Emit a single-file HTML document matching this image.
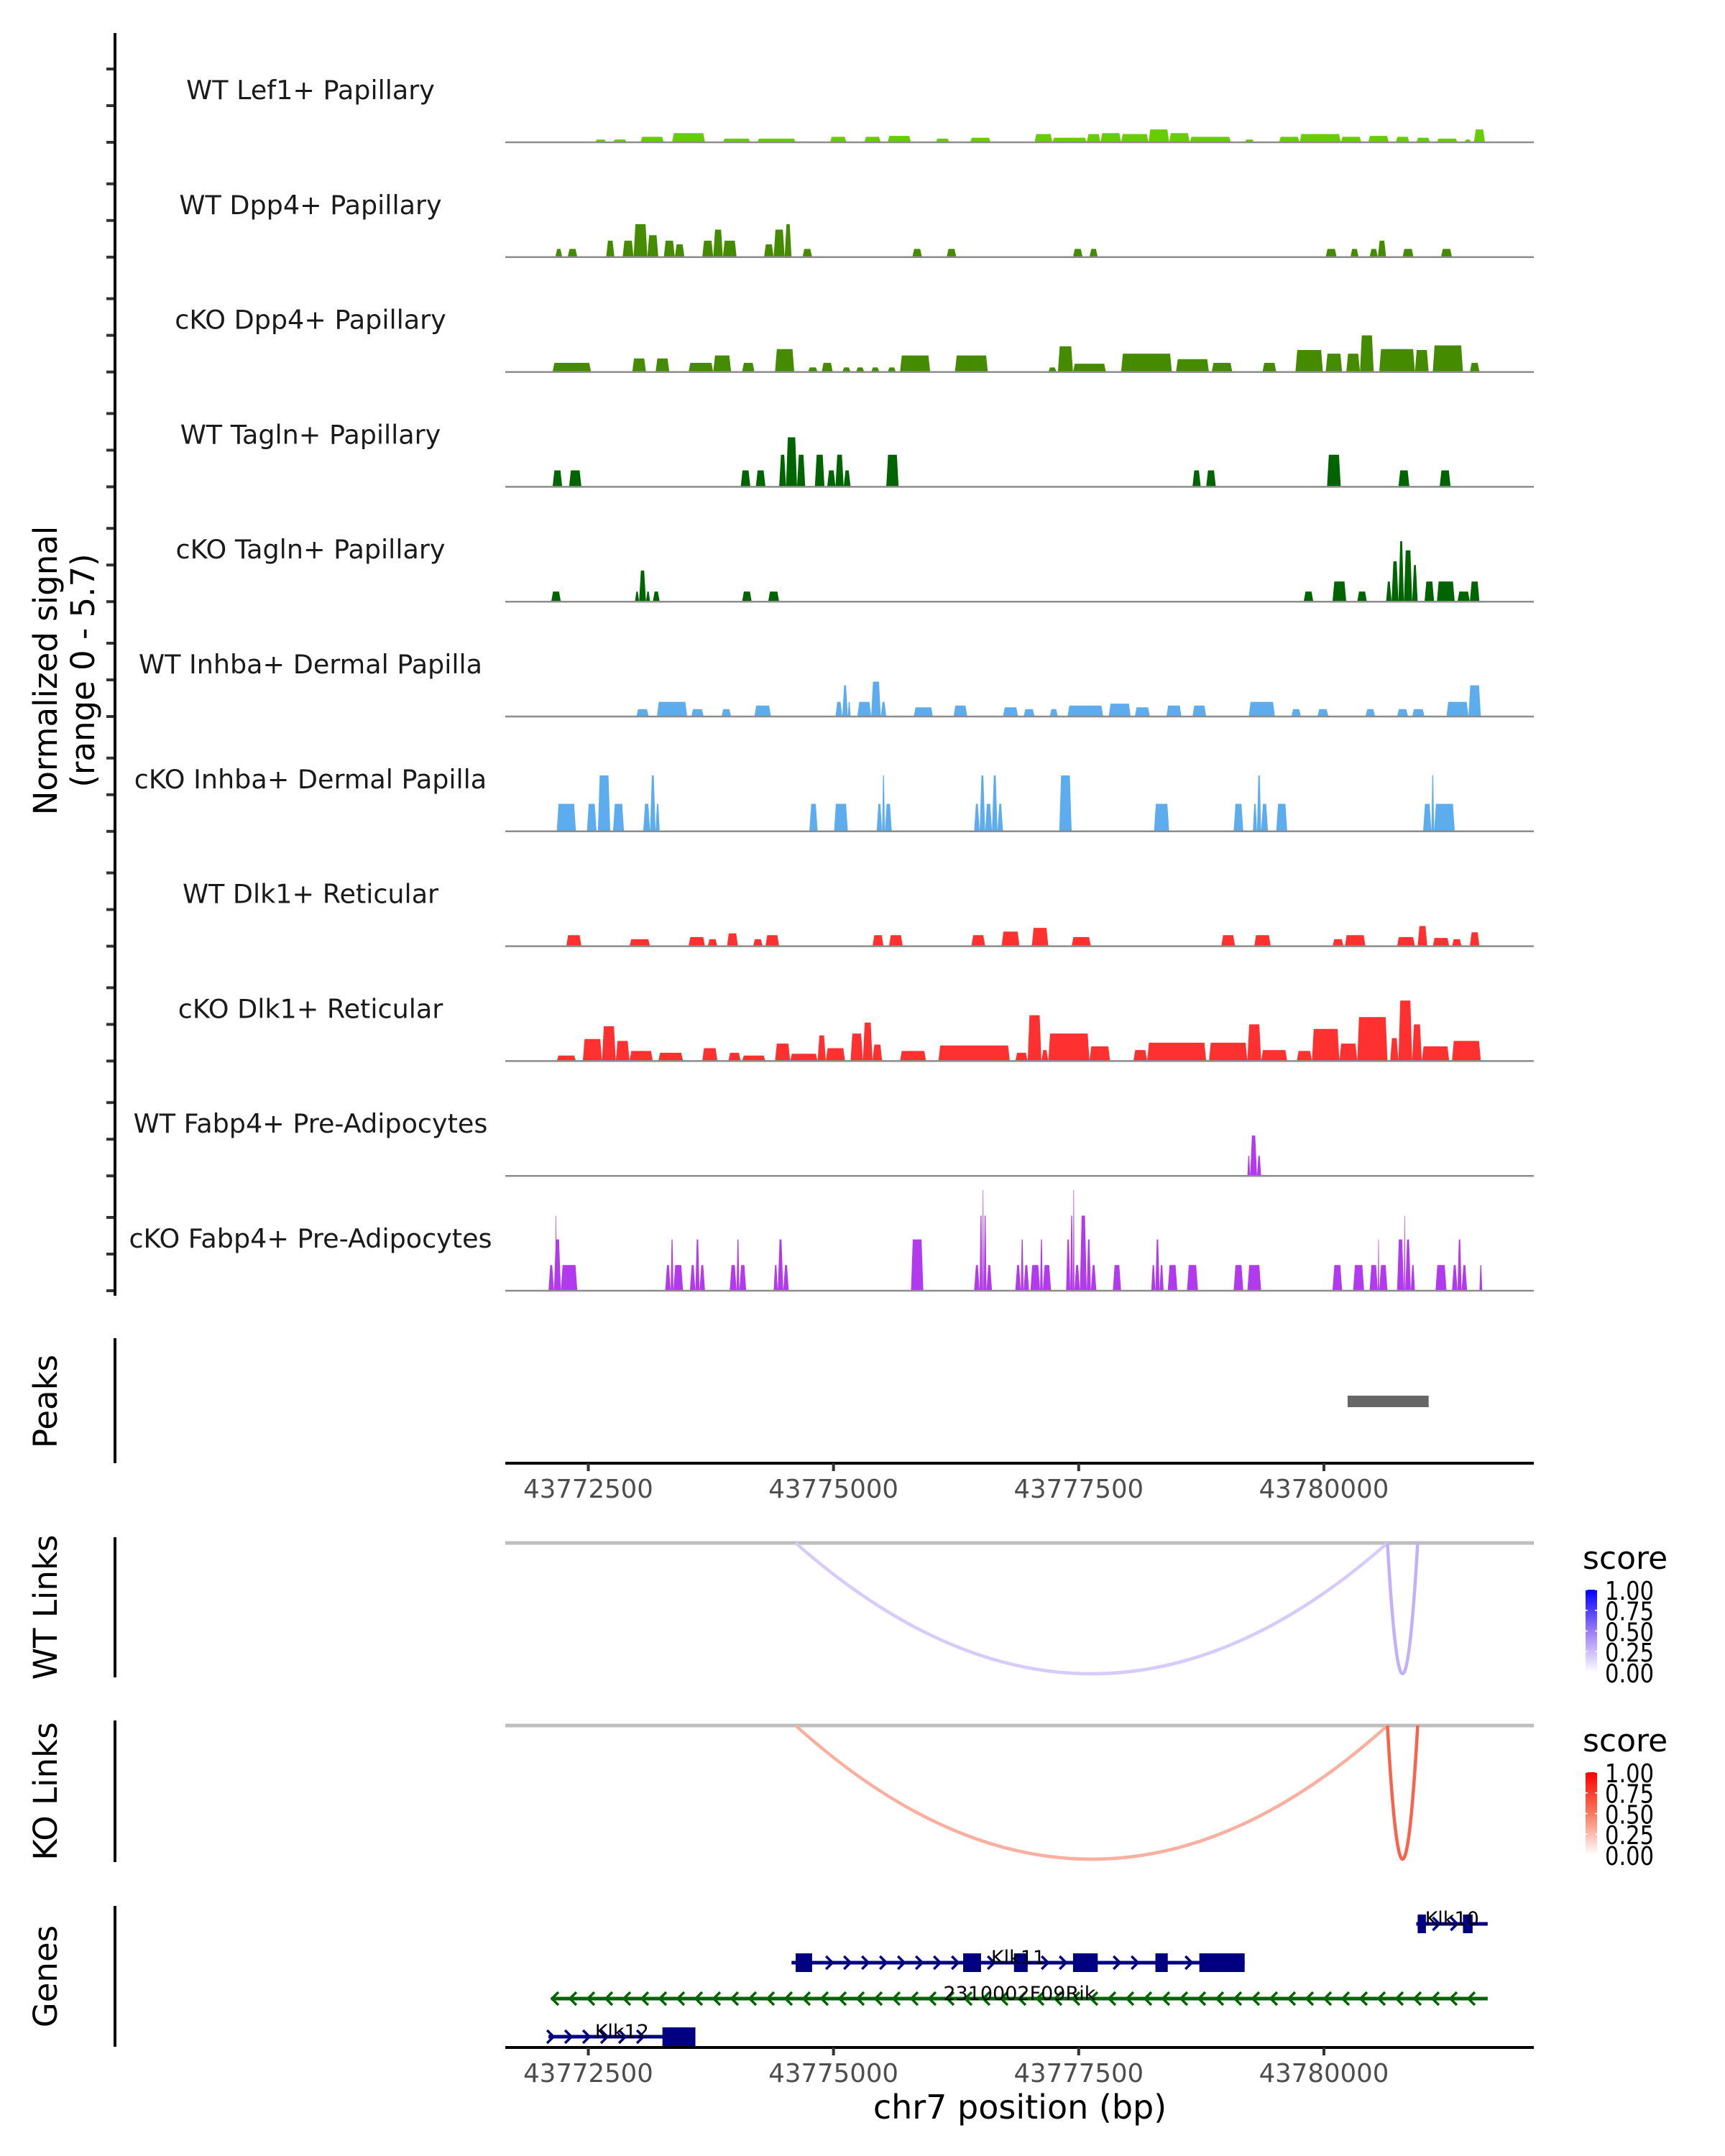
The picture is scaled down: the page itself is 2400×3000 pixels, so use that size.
<!DOCTYPE html>
<html><head><meta charset="utf-8">
<style>
html,body{margin:0;padding:0;background:#fff;}
svg{display:block;font-family:"DejaVu Sans","Liberation Sans",sans-serif;}
</style></head>
<body>
<svg id="chart" xmlns="http://www.w3.org/2000/svg" width="2400" height="3000" viewBox="0 0 2400 3000">
<rect x="0" y="0" width="2400" height="3000" fill="#fff"/>
<g id="tracks"></g>
<g id="axes"></g>
<g id="links"></g>
<g id="genes"></g>
</svg>
<script>
// ---------- data ----------
const trackNames = ["WT Lef1+ Papillary","WT Dpp4+ Papillary","cKO Dpp4+ Papillary","WT Tagln+ Papillary","cKO Tagln+ Papillary","WT Inhba+ Dermal Papilla","cKO Inhba+ Dermal Papilla","WT Dlk1+ Reticular","cKO Dlk1+ Reticular","WT Fabp4+ Pre-Adipocytes","cKO Fabp4+ Pre-Adipocytes"];
const trackColors = ["#66CD00","#458B00","#458B00","#006400","#006400","#5CACEE","#5CACEE","#FF3030","#FF3030","#B23AEE","#B23AEE"];
const xTicks = [43772500,43775000,43777500,43780000];
const legendTicks = [1.00,0.75,0.50,0.25,0.00];

const lef1 = [[43772570,43772682,0.15],[43772752,43772892,0.15],[43773032,43773270,0.3],[43773354,43773690,0.5],[43773872,43774152,0.2],[43774222,43774614,0.2],[43774964,43775132,0.3],[43775314,43775482,0.3],[43775552,43775790,0.35],[43776042,43776182,0.2],[43776392,43776602,0.25],[43777050,43777232,0.45],[43777232,43777582,0.25],[43777582,43777722,0.45],[43777722,43777932,0.5],[43777932,43778212,0.45],[43778212,43778422,0.7],[43778422,43778632,0.5],[43778632,43779052,0.3],[43779192,43779290,0.15],[43779542,43779752,0.3],[43779752,43780172,0.45],[43780172,43780382,0.3],[43780452,43780662,0.35],[43780732,43780872,0.3],[43780942,43781082,0.25],[43781152,43781362,0.2],[43781432,43781502,0.15],[43781530,43781642,0.7]];
const wtDpp4 = [[43772164,43772234,0.45],[43772290,43772388,0.45],[43772682,43772766,0.9],[43772850,43772962,0.9],[43772962,43773102,1.8],[43773102,43773214,1.2],[43773270,43773382,0.9],[43773382,43773480,0.7],[43773662,43773774,0.9],[43773774,43773872,1.5],[43773872,43774012,0.9],[43774292,43774390,0.7],[43774390,43774502,1.5],[43774502,43774572,1.8],[43774684,43774782,0.45],[43775804,43775902,0.45],[43776154,43776252,0.45],[43777442,43777540,0.45],[43777610,43777694,0.45],[43780018,43780130,0.45],[43780270,43780354,0.45],[43780466,43780550,0.45],[43780550,43780634,0.9],[43780802,43780914,0.45],[43781194,43781306,0.45]];
const ckoDpp4 = [[43772136,43772528,0.5],[43772948,43773088,0.74],[43773186,43773326,0.74],[43773522,43773774,0.5],[43773774,43773956,0.9],[43774068,43774194,0.5],[43774404,43774600,1.25],[43774740,43774838,0.25],[43774880,43774992,0.5],[43775090,43775174,0.25],[43775230,43775314,0.25],[43775384,43775468,0.25],[43775552,43775636,0.25],[43775678,43775986,0.9],[43776238,43776574,0.9],[43777190,43777274,0.25],[43777288,43777442,1.4],[43777442,43777778,0.45],[43777932,43778450,1.0],[43778492,43778828,0.7],[43778856,43779066,0.5],[43779374,43779514,0.5],[43779710,43779990,1.2],[43780018,43780186,1.0],[43780228,43780368,1.0],[43780368,43780508,2.0],[43780564,43780928,1.25],[43780928,43781068,1.2],[43781110,43781418,1.45],[43781488,43781586,0.5]];
const wtTagln = [[43772136,43772234,0.9],[43772304,43772430,0.9],[43774054,43774152,0.9],[43774208,43774306,0.9],[43774446,43774516,1.75],[43774516,43774628,2.7],[43774628,43774712,1.75],[43774810,43774908,1.75],[43774936,43775020,0.9],[43775020,43775104,1.75],[43775104,43775174,0.9],[43775538,43775664,1.75],[43778660,43778744,0.9],[43778800,43778898,0.9],[43780032,43780172,1.75],[43780760,43780872,0.9],[43781180,43781292,0.9]];
const ckoTagln = [[43772122,43772220,0.55],[43772976,43773018,0.55],[43773018,43773088,1.7],[43773088,43773130,0.55],[43773158,43773228,0.55],[43774068,43774166,0.55],[43774334,43774446,0.55],[43779794,43779892,0.55],[43780088,43780228,1.1],[43780340,43780438,0.55],[43780634,43780690,1.1],[43780690,43780760,2.2],[43780760,43780816,3.3],[43780816,43780900,2.8],[43780900,43780956,2.0],[43781026,43781124,1.1],[43781152,43781334,1.1],[43781362,43781488,0.55],[43781488,43781586,1.1]];
const wtInhba = [[43772990,43773116,0.4],[43773200,43773508,0.8],[43773550,43773676,0.4],[43773858,43773956,0.4],[43774194,43774362,0.6],[43775020,43775090,0.8],[43775090,43775146,1.7],[43775146,43775174,0.8],[43775244,43775384,0.8],[43775384,43775482,1.9],[43775482,43775538,0.8],[43775818,43776014,0.5],[43776224,43776364,0.6],[43776728,43776882,0.5],[43776938,43777050,0.4],[43777204,43777288,0.4],[43777386,43777750,0.6],[43777806,43778030,0.7],[43778072,43778226,0.5],[43778394,43778548,0.6],[43778660,43778800,0.6],[43779234,43779500,0.8],[43779668,43779766,0.4],[43779934,43780046,0.4],[43780424,43780522,0.4],[43780746,43780858,0.4],[43780900,43781026,0.4],[43781250,43781474,0.8],[43781474,43781600,1.7]];
const ckoInhba = [[43772178,43772374,1.5],[43772486,43772584,1.5],[43772598,43772724,3.05],[43772752,43772864,1.5],[43773060,43773130,1.5],[43773130,43773186,3.05],[43773186,43773228,1.5],[43774754,43774838,1.5],[43775006,43775146,1.5],[43775440,43775496,1.5],[43775496,43775524,3.05],[43775524,43775594,1.5],[43776434,43776490,1.5],[43776490,43776546,3.05],[43776546,43776616,1.5],[43776616,43776672,3.05],[43776672,43776728,1.5],[43777302,43777428,3.05],[43778268,43778422,1.5],[43779080,43779178,1.5],[43779276,43779318,1.5],[43779318,43779360,3.05],[43779360,43779430,1.5],[43779514,43779626,1.5],[43781012,43781096,1.5],[43781096,43781124,3.05],[43781124,43781334,1.5]];
const wtDlk1 = [[43772276,43772430,0.6],[43772920,43773130,0.38],[43773522,43773690,0.5],[43773718,43773816,0.38],[43773914,43774026,0.7],[43774180,43774278,0.38],[43774306,43774446,0.6],[43775398,43775510,0.6],[43775566,43775706,0.6],[43776406,43776546,0.6],[43776714,43776896,0.8],[43777022,43777190,1.0],[43777428,43777624,0.5],[43778954,43779094,0.6],[43779290,43779458,0.6],[43780088,43780200,0.38],[43780214,43780424,0.6],[43780746,43780928,0.5],[43780956,43781054,1.1],[43781110,43781278,0.45],[43781306,43781404,0.38],[43781488,43781586,0.76]];
const ckoDlk1 = [[43772178,43772374,0.3],[43772444,43772640,1.2],[43772640,43772780,1.9],[43772780,43772920,1.1],[43772920,43773158,0.55],[43773214,43773466,0.45],[43773662,43773816,0.7],[43773928,43774054,0.45],[43774068,43774306,0.3],[43774404,43774558,0.95],[43774558,43774838,0.4],[43774838,43774922,1.4],[43774922,43775118,0.7],[43775174,43775300,1.5],[43775300,43775398,2.1],[43775398,43775496,0.9],[43775678,43775944,0.55],[43776070,43776798,0.85],[43776854,43776980,0.45],[43776980,43777120,2.5],[43777120,43777190,0.6],[43777190,43777610,1.5],[43777610,43777820,0.8],[43778058,43778198,0.6],[43778198,43778800,1.0],[43778828,43779220,1.0],[43779220,43779360,2.0],[43779360,43779626,0.6],[43779724,43779878,0.55],[43779878,43780158,1.75],[43780158,43780340,0.95],[43780340,43780648,2.4],[43780676,43780760,1.25],[43780760,43780900,3.3],[43780900,43780998,2.0],[43780998,43781278,0.8],[43781306,43781600,1.1]];
const wtFabp4 = [[43779220,43779248,1.1],[43779248,43779318,2.2],[43779318,43779360,1.1]];
const ckoFabp4 = [[43772094,43772150,1.4],[43772150,43772220,2.8],[43772164,43772178,4.1],[43772220,43772388,1.4],[43773284,43773340,1.4],[43773340,43773368,2.8],[43773368,43773466,1.4],[43773536,43773592,1.4],[43773592,43773634,2.8],[43773634,43773690,1.4],[43773942,43774012,1.4],[43774012,43774040,2.8],[43774040,43774110,1.4],[43774390,43774432,1.4],[43774432,43774488,2.8],[43774488,43774544,1.4],[43775790,43775916,2.8],[43776434,43776490,1.4],[43776490,43776518,4.1],[43776518,43776532,5.5],[43776532,43776560,4.1],[43776560,43776616,1.4],[43776854,43776910,1.4],[43776910,43776938,2.8],[43776938,43776994,1.4],[43777008,43777106,1.4],[43777106,43777134,2.8],[43777134,43777218,1.4],[43777372,43777414,2.8],[43777414,43777442,4.1],[43777442,43777456,5.5],[43777456,43777512,1.4],[43777512,43777582,4.1],[43777582,43777624,2.8],[43777624,43777680,1.4],[43777848,43777932,1.4],[43778240,43778282,1.4],[43778282,43778324,2.8],[43778324,43778366,1.4],[43778408,43778506,1.4],[43778604,43778716,1.4],[43779080,43779178,1.4],[43779220,43779360,1.4],[43780088,43780186,1.4],[43780298,43780410,1.4],[43780466,43780550,1.4],[43780550,43780564,2.8],[43780564,43780648,1.4],[43780746,43780816,2.8],[43780816,43780830,4.1],[43780830,43780886,2.8],[43780886,43780928,1.4],[43781138,43781250,1.4],[43781306,43781362,1.4],[43781362,43781404,2.8],[43781404,43781460,1.4],[43781586,43781614,1.4]];
const trackData = [lef1,wtDpp4,ckoDpp4,wtTagln,ckoTagln,wtInhba,ckoInhba,wtDlk1,ckoDlk1,wtFabp4,ckoFabp4];

const peakStarts = [43780242];
const peakEnds = [43781068];

const wtLinkStarts = [43774614,43780648];
const wtLinkEnds = [43780648,43780956];
const wtLinkScores = [0.2,0.3];
const koLinkStarts = [43774614,43780648];
const koLinkEnds = [43780648,43780956];
const koLinkScores = [0.3,0.6];

const geneNames = ["Klk10","Klk11","2310002F09Rik","Klk12"];
const geneStarts = [43780942,43774572,43772122,43772094];
const geneEnds = [43781670,43779192,43781670,43773592];
const geneStrands = ["+","+","-","+"];
const geneExons = [
  [[43780956,43781040],[43781418,43781516]],
  [[43774614,43774782],[43776322,43776504],[43776840,43776980],[43777442,43777694],[43778282,43778408],[43778730,43779192]],
  [],
  [[43773256,43773592]]
];

// ---------- layout ----------
const NS = "http://www.w3.org/2000/svg";
const X0 = 703, X1 = 2134;
function xs(bp){ return 818.5 + (bp - 43772500) * 0.13646; }
const base0 = 198, trackStep = 159.8, unitPx = 25.5;
function mk(tag, attrs, parent){
  const e = document.createElementNS(NS, tag);
  for (const k in attrs) e.setAttribute(k, attrs[k]);
  parent.appendChild(e); return e;
}
const gT = document.getElementById('tracks');
const gA = document.getElementById('axes');
const gL = document.getElementById('links');
const gG = document.getElementById('genes');

trackNames.forEach((name, i) => {
  const base = base0 + i * trackStep;
  const g = mk('g', {}, gT);
  
  
  const lab = mk('text', {x: 432, y: base - 60, 'text-anchor':'middle', 'font-size': 36.5, fill:'#1a1a1a'}, g);
  lab.textContent = name;
  
  
  trackData[i].forEach(p => {
    const x1 = xs(p[0]), x2 = xs(p[1]), top = base - p[2] * unitPx;
    const t = Math.min(2.5, (x2 - x1) / 3);
    const path = mk('path', {d:`M${x1},${base} L${x1+t},${top} L${x2-t},${top} L${x2},${base} Z`, fill: trackColors[i]}, g);
    
    
  });
  const bl = mk('line', {x1: X0, x2: X1, y1: base, y2: base, stroke:'#8c8c8c', 'stroke-width': 2.5}, g);
  
  
  [0,2,4].forEach(v => {
    const tk = mk('line', {x1: 148, x2: 160, y1: base - v * unitPx, y2: base - v * unitPx, stroke:'#333', 'stroke-width': 4}, gA);
    
    
  });
});
const la = mk('line', {x1:160, x2:160, y1:46, y2:1803, stroke:'#000', 'stroke-width':4}, gA);


function rotText(txt, cx, cy, size, name, parent){
  const t = mk('text', {x: cx + size*0.36, y: cy, 'text-anchor':'middle', 'font-size': size, fill:'#000', transform:`rotate(-90 ${cx + size*0.36} ${cy})`}, parent);
  t.textContent = txt;
  
  
  return t;
}
rotText('Normalized signal', 63, 933, 45, 'y-axis-title', gA);
rotText('(range 0 - 5.7)', 115, 933, 45, 'y-axis-range', gA);

const pa = mk('line', {x1:160, x2:160, y1:1862, y2:2036, stroke:'#000', 'stroke-width':4}, gA);


rotText('Peaks', 63, 1950, 45, 'peaks-label', gA);
peakStarts.forEach((s, i) => {
  const r = mk('rect', {x: xs(s), y: 1942, width: xs(peakEnds[i]) - xs(s), height: 16, fill:'#666'}, gA);
  
  
});

function xAxis(y, name){
  const g = mk('g', {}, gA);
  
  
  mk('line', {x1:X0, x2:X1, y1:y, y2:y, stroke:'#000', 'stroke-width':4}, g);
  xTicks.forEach(v => {
    mk('line', {x1:xs(v), x2:xs(v), y1:y, y2:y+11, stroke:'#333', 'stroke-width':4}, g);
    const t = mk('text', {x:xs(v), y:y+48, 'text-anchor':'middle', 'font-size':35.5, fill:'#4d4d4d'}, g);
    t.textContent = v;
    
    
  });
}
xAxis(2036, 'x-axis-peaks');
xAxis(2849, 'x-axis-genes');
const xt = mk('text', {x:1419, y:2948, 'text-anchor':'middle', 'font-size':46, fill:'#000'}, gA);
xt.textContent = 'chr7 position (bp)';



function hex(c){ return [parseInt(c.slice(1,3),16),parseInt(c.slice(3,5),16),parseInt(c.slice(5,7),16)]; }
function grad(stops, s){
  let a, b, t;
  if (s <= 0.5){ a = stops[0]; b = stops[1]; t = s/0.5; } else { a = stops[1]; b = stops[2]; t = (s-0.5)/0.5; }
  const A = hex(a), B = hex(b);
  return 'rgb(' + A.map((v,k) => Math.round(v + (B[k]-v)*t)).join(',') + ')';
}
const wtStops = ['#ffffff','#9a7cf5','#0000ff'];
const koStops = ['#ffffff','#f97a5e','#ff0000'];
function linkPanel(top, bottomAxis, line0, arcBottom, starts, ends, scores, stops, label, name, gid){
  const g = mk('g', {}, gL);
  
  
  mk('line', {x1:160, x2:160, y1:top, y2:bottomAxis, stroke:'#000', 'stroke-width':4}, g);
  rotText(label, 63, (top + bottomAxis)/2, 45, name + '-label', g);
  mk('line', {x1:X0, x2:X1, y1:line0, y2:line0, stroke:'#bebebe', 'stroke-width':5}, g);
  starts.forEach((s, i) => {
    const x1 = xs(s), x2 = xs(ends[i]);
    const cy = line0 + 2 * (arcBottom - line0);
    const p = mk('path', {d:`M${x1},${line0} Q${(x1+x2)/2},${cy} ${x2},${line0}`, fill:'none', stroke: grad(stops, scores[i]), 'stroke-width':4.5}, g);
    
    
  });
  const lg = mk('g', {}, g);
  
  
  const st = mk('text', {x:2202, y:line0 + 36, 'font-size':44, fill:'#000'}, lg);
  st.textContent = 'score';
  const defs = mk('defs', {}, lg);
  const lgd = mk('linearGradient', {id: gid, x1:0, y1:1, x2:0, y2:0}, defs);
  mk('stop', {offset:'0', 'stop-color':stops[0]}, lgd);
  mk('stop', {offset:'0.5', 'stop-color':stops[1]}, lgd);
  mk('stop', {offset:'1', 'stop-color':stops[2]}, lgd);
  const by0 = line0 + 65, bh = 115;
  mk('rect', {x:2206, y:by0, width:16, height:bh, fill:`url(#${gid})`}, lg);
  legendTicks.forEach(v => {
    const y = by0 + (1 - v) * bh;
    mk('line', {x1:2206, x2:2209, y1:y, y2:y, stroke:'#fff', 'stroke-width':1.5}, lg);
    mk('line', {x1:2219, x2:2222, y1:y, y2:y, stroke:'#fff', 'stroke-width':1.5}, lg);
    const t = mk('text', {x:2233, y:y + 14, 'font-size':36, fill:'#000', transform:`translate(2233 ${y}) scale(0.85 1) translate(-2233 ${-y})`}, lg);
    t.textContent = v.toFixed(2);
  });
}
linkPanel(2139, 2334, 2147, 2329, wtLinkStarts, wtLinkEnds, wtLinkScores, wtStops, 'WT Links', 'wt-links', 'gwt');
linkPanel(2394, 2591, 2401, 2587, koLinkStarts, koLinkEnds, koLinkScores, koStops, 'KO Links', 'ko-links', 'gko');

const ga = mk('line', {x1:160, x2:160, y1:2652, y2:2848, stroke:'#000', 'stroke-width':4}, gG);


rotText('Genes', 63, 2750, 45, 'genes-label', gG);
const geneRowY = [2677, 2731, 2781, 2834];
geneNames.forEach((nm, i) => {
  const y = geneRowY[i];
  const col = geneStrands[i] === '+' ? '#000080' : '#006400';
  const g = mk('g', {}, gG);
  
  
  const x1 = xs(geneStarts[i]), x2 = xs(geneEnds[i]);
  mk('line', {x1:x1, x2:x2, y1:y, y2:y, stroke:col, 'stroke-width':5}, g);
  const exons = geneExons[i];
  for (let x = x1 + 4; x <= x2 - 2; x += 25) {
    const inEx = exons.some(e => x >= xs(e[0]) - 6 && x <= xs(e[1]) + 6);
    if (inEx) continue;
    const d = geneStrands[i] === '+' ? `M${x-6},${y-9} L${x+3},${y} L${x-6},${y+9}` : `M${x+6},${y-9} L${x-3},${y} L${x+6},${y+9}`;
    mk('path', {d:d, fill:'none', stroke:col, 'stroke-width':3.5}, g);
  }
  exons.forEach(e => {
    mk('rect', {x:xs(e[0]), y:y-13, width:xs(e[1])-xs(e[0]), height:26, fill:col}, g);
  });
  const t = mk('text', {x:(x1+x2)/2, y:y+2, 'text-anchor':'middle', 'font-size':27, fill:'#000'}, g);
  t.textContent = nm;
  
  
});
</script>
</body></html>
